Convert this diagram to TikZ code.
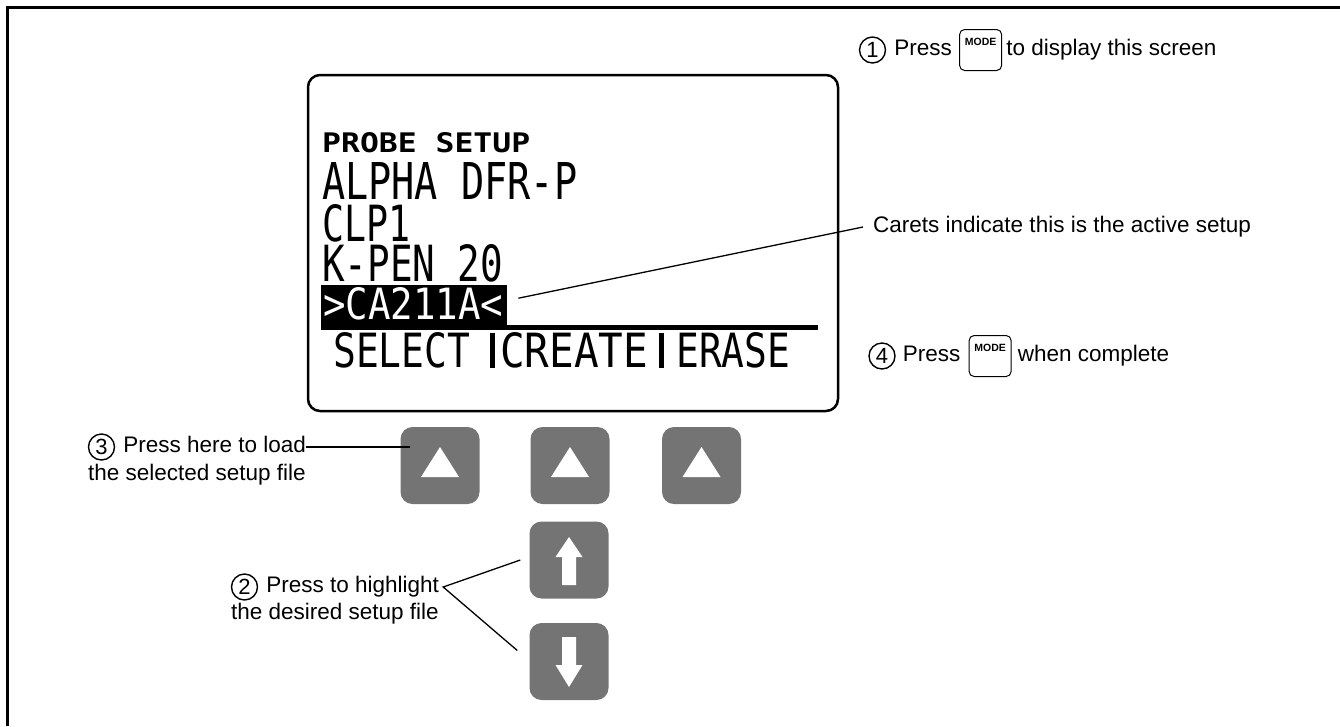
\documentclass[tikz,border=0pt]{standalone}
\usepackage{fontspec}
\setmainfont{Liberation Sans}
\newfontfamily\lcdfont{DejaVu Sans Mono}
\usepackage{tikz}
\usetikzlibrary{positioning}

\definecolor{keygray}{RGB}{116,116,116}
\newcommand{\lcdtext}[3]{\resizebox{#1}{#2}{#3}}

\begin{document}
\begin{tikzpicture}[
    x=1pt, y=-1pt,
    txt/.style={inner sep=0pt, font=\fontsize{22.5}{26}\selectfont, text height=16.5pt, text depth=5pt},
    num/.style={circle, draw, line width=1.4pt, minimum size=26pt, inner sep=0pt, font=\fontsize{22}{24}\selectfont},
    modekey/.style={draw, rounded corners=5pt, line width=1pt, minimum width=42pt, minimum height=41pt, inner xsep=0pt, inner ysep=6pt, text height=9pt, text depth=19pt, font=\fontsize{10.5}{10.5}\bfseries\selectfont},
    screen/.style={draw, line width=2.5pt, rounded corners=12pt, minimum width=530pt, minimum height=336pt},
    lcd/.style={inner sep=0pt, anchor=south west, font=\lcdfont},
    softkey/.style={fill=keygray, rounded corners=12pt, minimum width=79pt, minimum height=77pt, inner sep=0pt},
    trikey/.style={softkey, path picture={\fill[white, sharp corners, shift={(path picture bounding box.center)}, y=1pt] (-19,-11.5) -- (19,-11.5) -- (0,18.5) -- cycle;}},
    upkey/.style={softkey, path picture={\fill[white, sharp corners, shift={(path picture bounding box.center)}, y=1pt] (0,23) -- (13.5,3) -- (7,3) -- (7,-25) -- (-7,-25) -- (-7,3) -- (-13.5,3) -- cycle;}},
    downkey/.style={softkey, path picture={\fill[white, sharp corners, shift={(path picture bounding box.center)}, y=1pt] (0,-25.5) -- (13.5,-3.5) -- (7,-3.5) -- (7,24.5) -- (-7,24.5) -- (-7,-3.5) -- (-13.5,-3.5) -- cycle;}},
    leader/.style={line width=1.3pt}
]
    \useasboundingbox (0,0) rectangle (1340,726);
    \draw[line width=3pt] (7,726) -- (7,7) -- (1340,7);

    % Display
    \node[screen] (lcdbox) at (573,243) {};
    \node[lcd, font=\lcdfont\bfseries] (title) at (322,153) {\lcdtext{208pt}{20pt}{PROBE SETUP}};
    \node[lcd] (alpha) at (322,200) {\lcdtext{255pt}{37pt}{ALPHA DFR-P}};
    \node[lcd] (clp) at (322,242) {\lcdtext{88pt}{37pt}{CLP1}};
    \node[lcd] (kpen) at (322,282) {\lcdtext{181pt}{37pt}{K-PEN 20}};
    \node[fill=black, inner sep=0pt, minimum width=186pt, minimum height=42pt, anchor=north west] (sel) at (321,285) {};
    \node[lcd, text=white] (caname) at (323,320) {\lcdtext{180pt}{32pt}{>CA211A<}};
    \draw[line width=5pt] (321,327.5) -- (818,327.5);
    \node[lcd] (select) at (333,368) {\lcdtext{137pt}{35pt}{SELECT}};
    \node[lcd] (create) at (500,368) {\lcdtext{148pt}{35pt}{CREATE}};
    \node[lcd] (erase) at (676,368) {\lcdtext{114pt}{35pt}{ERASE}};
    \fill (490,333) rectangle (495,368);
    \fill (659,333) rectangle (664,368);

    % Keys
    \node[trikey] (soft1) at (440,465.5) {};
    \node[trikey] (soft2) at (570,465.5) {};
    \node[trikey] (soft3) at (701.5,465.5) {};
    \node[upkey] (up) at (569,560) {};
    \node[downkey] (down) at (569,661.5) {};

    % Step 1
    \node[num] (n1) at (872.5,50) {1};
    \node[txt, right=8pt of n1] (p1) {Press};
    \node[modekey, right=7pt of p1] (mode1) {MODE};
    \node[txt, right=4pt of mode1] (t1) {to display this screen};

    % Carets
    \node[txt, anchor=west] (carets) at (873,227) {Carets indicate this is the active setup};
    \draw[leader] ([xshift=11pt, yshift=8pt]sel.east) -- ([xshift=-10pt]carets.west);

    % Step 4
    \node[num] (n4) at (882,356) {4};
    \node[txt, right=7pt of n4] (p4) {Press};
    \node[modekey, right=8pt of p4] (mode4) {MODE};
    \node[txt, right=6pt of mode4] (t4) {when complete};

    % Step 3
    \node[num] (n3) at (101.5,447) {3};
    \node[txt, right=8pt of n3] (p3) {Press here to load};
    \node[txt, anchor=west] (f3) at ([yshift=-28pt]n3.west) {the selected setup file};
    \draw[leader] (p3.east) -- ([xshift=10pt]p3.east -| soft1.west);

    % Step 2
    \node[num] (n2) at (244.5,587) {2};
    \node[txt, right=8pt of n2] (p2) {Press to highlight};
    \node[txt, anchor=west] (f2) at ([yshift=-27pt]n2.west) {the desired setup file};
    \draw[leader] ([xshift=-9pt]up.west) -- ([xshift=4pt]p2.east) -- ([xshift=-12pt, yshift=11pt]down.west);
\end{tikzpicture}
\end{document}
